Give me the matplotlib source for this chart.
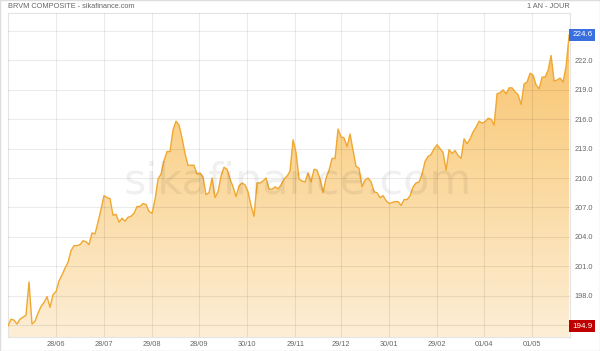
import numpy as np
import matplotlib.pyplot as plt
from matplotlib.colors import LinearSegmentedColormap
from matplotlib.patches import Rectangle

plt.rcParams['font.family'] = ['Liberation Sans', 'DejaVu Sans']

# BRVM composite, daily closes over one year
values = [
    194.9, 195.6, 195.5, 195.1, 195.6, 195.8, 196.0, 199.4, 195.1, 195.4,
    196.2, 196.9, 197.3, 197.9, 196.8, 198.1, 198.4, 199.5, 200.1, 200.8,
    201.4, 202.6, 203.1, 203.1, 203.2, 203.6, 203.5, 203.2, 204.4, 204.3,
    205.5, 206.8, 208.2, 208.0, 207.9, 206.2, 206.3, 205.5, 205.9, 205.6,
    206.0, 206.1, 206.4, 207.1, 207.1, 207.4, 207.3, 206.6, 206.4, 207.8,
    209.9, 210.4, 211.8, 212.7, 212.7, 214.9, 215.8, 215.4, 214.1, 212.5,
    211.3, 211.3, 211.3, 210.4, 210.5, 210.1, 208.3, 208.5, 210.0, 208.0,
    208.6, 210.2, 211.1, 210.9, 209.9, 209.1, 208.1, 209.2, 209.5, 209.3,
    208.6, 207.2, 206.1, 209.5, 209.5, 209.7, 210.0, 208.9, 208.85, 209.1,
    208.9, 209.3, 209.9, 210.2, 210.7, 213.9, 212.6, 209.9, 209.7, 209.6,
    210.5, 209.6, 210.9, 210.8, 209.9, 208.5, 210.0, 210.8, 212.0, 212.0,
    215.0, 214.2, 214.1, 213.2, 214.5, 212.8, 211.2, 211.0, 209.1, 209.8,
    210.0, 209.6, 208.6, 208.5, 208.0, 208.2, 207.7, 207.4, 207.5, 207.6,
    207.6, 207.2, 207.8, 207.8, 208.2, 209.1, 209.5, 209.6, 210.4, 211.7,
    212.2, 212.4, 213.0, 213.4, 213.0, 212.6, 210.8, 212.9, 212.5, 212.8,
    212.3, 212.0, 214.0, 213.5, 214.0, 214.7, 215.2, 215.8, 215.6, 215.75,
    216.1, 216.0, 215.4, 218.6, 218.7, 219.0, 218.6, 219.2, 219.2, 218.8,
    218.5, 217.5, 219.6, 219.8, 220.7, 220.5, 219.5, 219.1, 220.3, 220.3,
    221.0, 222.5, 219.9, 220.0, 220.2, 219.8, 221.4, 224.6,
]
tick_labels = ["28/06", "28/07", "29/08", "28/09", "30/10", "29/11",
               "29/12", "30/01", "29/02", "01/04", "01/05"]
tick_idx = [16, 32, 48, 63.7, 79.7, 95.7, 111, 127, 143, 158.7, 174.7]
y_ticks = np.arange(195, 226, 3)

x = np.arange(len(values))
y = np.array(values)
ymin, ymax = 193.78, 226.84

fig = plt.figure(figsize=(6, 3.51), dpi=100)
ax = fig.add_axes([8 / 600, 1 - 337 / 351, 562 / 600, 324 / 351])
ax.set_xlim(0, len(values) - 0.7)
ax.set_ylim(ymin, ymax)

# gradient fill under the curve
poly = ax.fill_between(x, y, ymin, facecolor='none', edgecolor='none')
cmap = LinearSegmentedColormap.from_list('g', ['#fdeed6', '#fbd89c', '#f8c066'])
grad = np.linspace(0, 1, 256).reshape(-1, 1)
img = ax.imshow(grad, cmap=cmap, aspect='auto', origin='lower',
                extent=[0, len(values), ymin, ymax], zorder=1)
img.set_clip_path(poly.get_paths()[0], transform=ax.transData)
ax.plot(x, y, color='#f0a830', lw=1.0, zorder=3)

ax.set_xticks(tick_idx)
ax.set_xticklabels(tick_labels)
ax.set_yticks(y_ticks)
ax.set_yticklabels([f"{v:.1f}" for v in y_ticks])
ax.yaxis.tick_right()
ax.tick_params(axis='both', length=0, labelsize=5.3, colors='#666666')
ax.tick_params(axis='x', pad=3)
ax.tick_params(axis='y', pad=3)
ax.grid(True, color='black', alpha=0.08, lw=0.8, zorder=2)
ax.set_axisbelow(False)
for s in ax.spines.values():
    s.set_color('#e4e4e4')
    s.set_linewidth(0.8)

# watermark
ax.text(0.515, 0.48, "sikafinance.com", transform=ax.transAxes, fontsize=31,
        color='black', alpha=0.06, ha='center', va='center', zorder=4,
        family=['DejaVu Sans'])

# header texts
fig.text(8 / 600, 1 - 6 / 351, "BRVM COMPOSITE - sikafinance.com",
         fontsize=5.3, color='#666666', ha='left', va='center')
fig.text(570 / 600, 1 - 6 / 351, "1 AN - JOUR",
         fontsize=5.3, color='#666666', ha='right', va='center')

# last and min value boxes (cover the 225.0 / 195.0 labels, as on the site)
ax.annotate(f"{values[-1]:.1f}", xy=(1, values[-1]), xycoords=('axes fraction', 'data'),
            xytext=(1.5, 0), textcoords='offset points', fontsize=5.8, color='white',
            ha='left', va='center', zorder=6,
            bbox=dict(boxstyle='square,pad=0.35', fc='#3a6fe0', ec='none'))
ax.annotate(f"{min(values):.1f}", xy=(1, min(values)), xycoords=('axes fraction', 'data'),
            xytext=(1.5, 0), textcoords='offset points', fontsize=5.8, color='white',
            ha='left', va='center', zorder=6,
            bbox=dict(boxstyle='square,pad=0.35', fc='#c00000', ec='none'))

fig.patches.append(Rectangle((0, 0), 1, 1, transform=fig.transFigure,
                             fill=False, ec='#dddddd', lw=1))

fig.savefig('out.png', dpi=100)
